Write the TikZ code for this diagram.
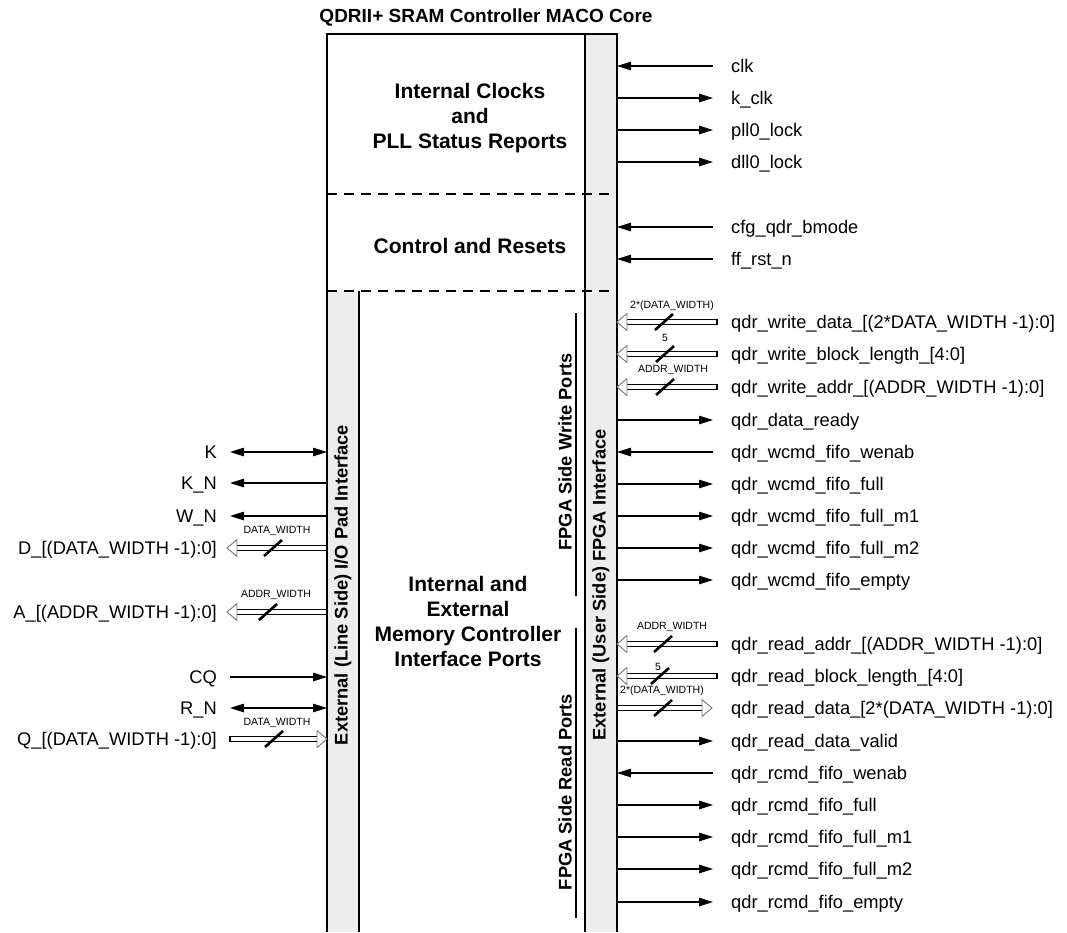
\documentclass[tikz,border=0pt]{standalone}
\usepackage{fontspec}
\setmainfont{Liberation Sans}
\usetikzlibrary{arrows.meta,calc}
\definecolor{colgrey}{HTML}{EDEDED}
\definecolor{headgrey}{HTML}{777777}
\tikzset{
  sig/.style={line width=1.1pt},
  tipin/.style={sig,-{Triangle[length=14pt,width=8.5pt]}},
  tipout/.style={sig,{Triangle[length=14pt,width=8.5pt]}-},
  tipboth/.style={sig,{Triangle[length=14pt,width=8.5pt]}-{Triangle[length=14pt,width=8.5pt]}},
  frame/.style={line width=1.3pt},
  sepline/.style={line width=1.1pt, dash pattern=on 10pt off 7pt},
  rlbl/.style={font=\fontsize{18.3}{22}\selectfont, anchor=base west, inner sep=0pt},
  llbl/.style={font=\fontsize{18.3}{22}\selectfont, anchor=base east, inner sep=0pt},
  blk/.style={font=\fontsize{21}{25}\selectfont\bfseries, align=center, inner sep=0pt},
  vlbl/.style={font=\fontsize{18.3}{22}\selectfont\bfseries, rotate=90, inner sep=0pt},
  wlbl/.style={font=\fontsize{10.5}{12}\selectfont, inner sep=0pt},
  busline/.style={line width=1.2pt, double=white, double distance=4pt},
  bushead/.style={draw=headgrey, fill=white, line width=0.9pt},
  slashmark/.style={line width=2.6pt},
}
% #1 name, #2 tip x, #3 tail x, #4 y, #5 slash x, #6 label x, #7 label y, #8 label
\newcommand\busarrow[8]{%
  \coordinate (#1-tip) at (#2,#4);
  \coordinate (#1-tail) at (#3,#4);
  \coordinate (#1-s) at (#5,#4);
  \pgfmathsetmacro\busdir{(#3>#2) ? 1 : -1}
  \draw[busline] (#1-tail) -- ($(#1-tip)+(\busdir*10,0)$);
  \draw[sig] ($(#1-tail)+(0,-3.2)$) -- ($(#1-tail)+(0,3.2)$);
  \draw[bushead] (#1-tip) -- ++(\busdir*10,-8.5) -- ++(0,17) -- cycle;
  \draw[slashmark] ($(#1-s)+(-9,8)$) -- ($(#1-s)+(9,-8)$);
  \node[wlbl] (#1-w) at (#6,#7) {#8};
}
\begin{document}
\begin{tikzpicture}[x=1pt,y=-1pt]
\useasboundingbox (0,0) rectangle (1067,932);
% grey columns
\fill[colgrey] (585,34) rectangle (617,932);
\fill[colgrey] (327,291) rectangle (359,932);
% frame
\draw[frame] (327,932) -- (327,34) -- (617,34) -- (617,932);
\draw[frame] (585,34) -- (585,932);
\draw[frame] (359,291) -- (359,932);
\draw[sepline] (327,194) -- (617,194);
\draw[sepline] (327,291) -- (617,291);
% group lines
\draw[sig] (576,313) -- (576,596);
\draw[sig] (576,628) -- (576,918);

% title and block labels
\node[font=\fontsize{19}{22}\selectfont\bfseries, inner sep=0pt] (title) at (486,17) {QDRII+ SRAM Controller MACO Core};
\node[blk] (clkblk) at (470,118) {Internal Clocks\\and\\PLL Status Reports};
\node[blk] (ctlblk) at (470,246) {Control and Resets};
\node[blk] (memblk) at (468,621) {Internal and\\External\\Memory Controller\\Interface Ports};
\node[vlbl] (linev) at (343,585) {External (Line Side) I/O Pad Interface};
\node[vlbl] (userv) at (601,585) {External (User Side) FPGA Interface};
\node[vlbl] (wrv) at (565,452) {FPGA Side Write Ports};
\node[vlbl] (rdv) at (565,792) {FPGA Side Read Ports};

% right side inputs
\foreach \n/\y/\t in {clk/66/clk, cfg/227/cfg\_qdr\_bmode, ffr/259/ff\_rst\_n,
  wwen/452/qdr\_wcmd\_fifo\_wenab, rwen/773/qdr\_rcmd\_fifo\_wenab}{
  \coordinate (\n-a) at (617,\y);
  \coordinate (\n-b) at (713,\y);
  \node[rlbl] (\n-l) at (731,\y+6.6) {\t};
  \draw[tipin] (\n-b) -- (\n-a);
}
% right side outputs
\foreach \n/\y/\t in {kclk/98/k\_clk, pll/130/pll0\_lock, dll/162/dll0\_lock,
  drdy/420/qdr\_data\_ready, wfull/484/qdr\_wcmd\_fifo\_full,
  wm1/516/qdr\_wcmd\_fifo\_full\_m1, wm2/548/qdr\_wcmd\_fifo\_full\_m2,
  wemp/580/qdr\_wcmd\_fifo\_empty, rvld/741/qdr\_read\_data\_valid,
  rfull/805/qdr\_rcmd\_fifo\_full, rm1/837/qdr\_rcmd\_fifo\_full\_m1,
  rm2/869/qdr\_rcmd\_fifo\_full\_m2, remp/902/qdr\_rcmd\_fifo\_empty}{
  \coordinate (\n-a) at (617,\y);
  \coordinate (\n-b) at (713,\y);
  \node[rlbl] (\n-l) at (731,\y+6.6) {\t};
  \draw[tipout] (\n-b) -- (\n-a);
}
% right side buses
\busarrow{wdata}{617}{717}{322}{664}{672}{306}{2*(DATA\_WIDTH)}
\node[rlbl] (wdata-l) at (731,322+6.6) {qdr\_write\_data\_[(2*DATA\_WIDTH -1):0]};
\busarrow{wblk}{617}{717}{354}{665}{665}{338}{5}
\node[rlbl] (wblk-l) at (731,354+6.6) {qdr\_write\_block\_length\_[4:0]};
\busarrow{waddr}{617}{717}{387}{665}{673}{370}{ADDR\_WIDTH}
\node[rlbl] (waddr-l) at (731,387+6.6) {qdr\_write\_addr\_[(ADDR\_WIDTH -1):0]};
\busarrow{raddr}{617}{717}{644}{663}{672}{627}{ADDR\_WIDTH}
\node[rlbl] (raddr-l) at (731,644+6.6) {qdr\_read\_addr\_[(ADDR\_WIDTH -1):0]};
\busarrow{rblk}{617}{717}{676}{660}{658}{667}{5}
\node[rlbl] (rblk-l) at (731,676+6.6) {qdr\_read\_block\_length\_[4:0]};
\busarrow{rdata}{712}{617}{708}{663}{662}{691}{2*(DATA\_WIDTH)}
\node[rlbl] (rdata-l) at (731,708+6.6) {qdr\_read\_data\_[2*(DATA\_WIDTH -1):0]};

% left side signals
\coordinate (K-a) at (327,452); \coordinate (K-b) at (230,452);
\node[llbl] (K-l) at (217,452+6.6) {K};
\draw[tipboth] (K-b) -- (K-a);
\coordinate (KN-a) at (327,483); \coordinate (KN-b) at (230,483);
\node[llbl] (KN-l) at (217,483+6.6) {K\_N};
\draw[tipout] (KN-b) -- (KN-a);
\coordinate (WN-a) at (327,516); \coordinate (WN-b) at (230,516);
\node[llbl] (WN-l) at (217,516+6.6) {W\_N};
\draw[tipout] (WN-b) -- (WN-a);
\coordinate (CQ-a) at (327,677); \coordinate (CQ-b) at (230,677);
\node[llbl] (CQ-l) at (217,677+6.6) {CQ};
\draw[tipin] (CQ-b) -- (CQ-a);
\coordinate (RN-a) at (327,708); \coordinate (RN-b) at (230,708);
\node[llbl] (RN-l) at (217,708+6.6) {R\_N};
\draw[tipboth] (RN-b) -- (RN-a);
% left side buses
\busarrow{D}{227}{327}{548}{273}{277}{531}{DATA\_WIDTH}
\node[llbl] (D-l) at (217,548+6.6) {D\_[(DATA\_WIDTH -1):0]};
\busarrow{A}{227}{327}{612}{268}{276}{595}{ADDR\_WIDTH}
\node[llbl] (A-l) at (217,612+6.6) {A\_[(ADDR\_WIDTH -1):0]};
\busarrow{Q}{327}{230}{739}{274}{277}{723}{DATA\_WIDTH}
\node[llbl] (Q-l) at (217,739+6.6) {Q\_[(DATA\_WIDTH -1):0]};
\end{tikzpicture}
\end{document}
